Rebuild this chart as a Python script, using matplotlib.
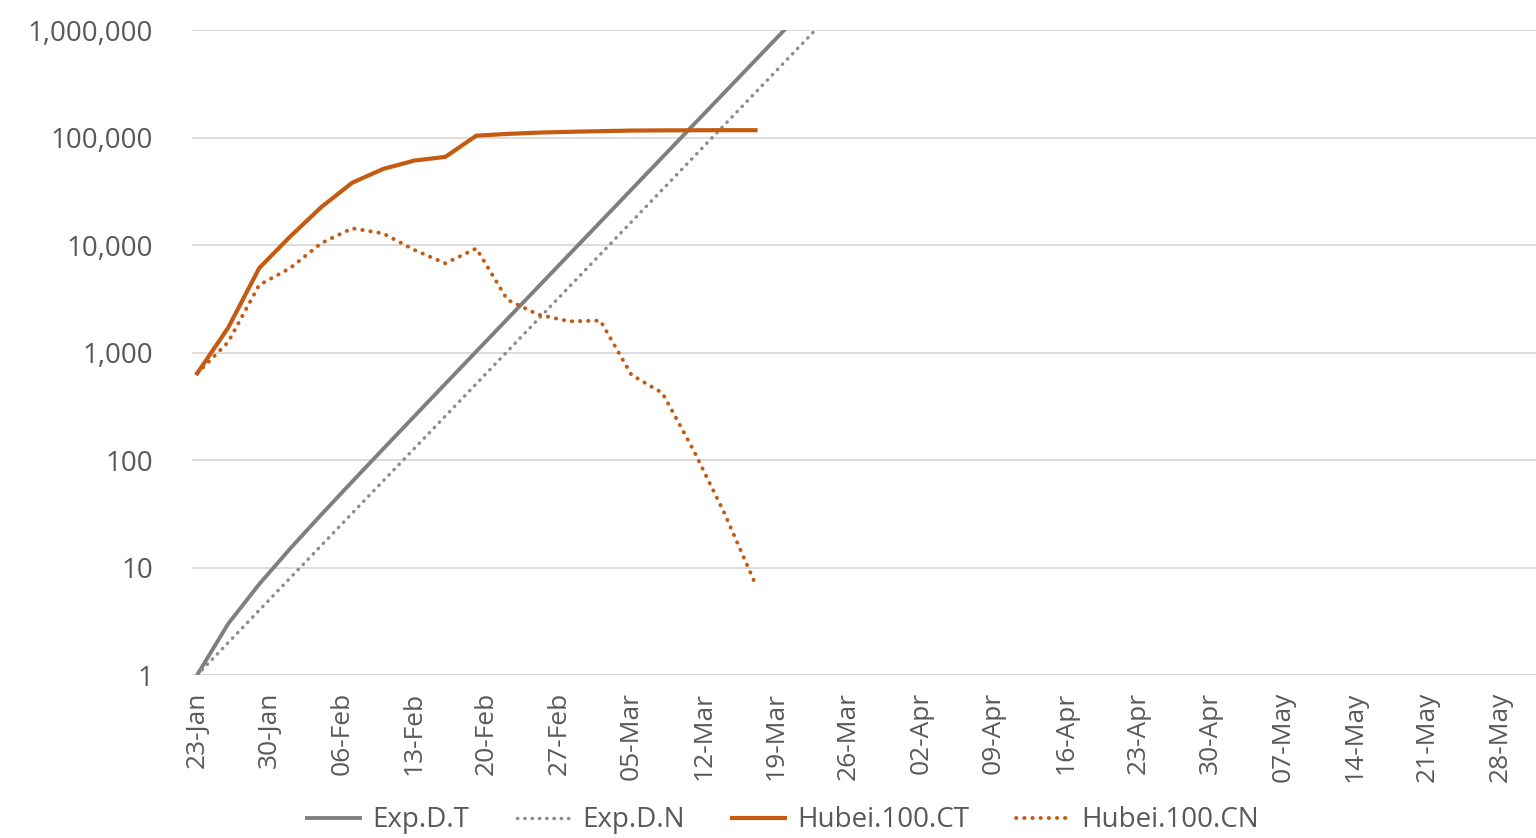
import numpy as np
import pandas as pd
import matplotlib
matplotlib.use("Agg")
import matplotlib.pyplot as plt
import matplotlib.dates as mdates
from matplotlib.ticker import FuncFormatter

# exponential reference: doubling every 3 days
exp_dates = pd.date_range("2020-01-23", periods=22, freq="3D")
exp_total = [1, 3, 7, 15, 31, 63, 127, 255, 511, 1023, 2047, 4095, 8191, 16383,
             32767, 65535, 131071, 262143, 524287, 1048575, 2097151, 4194303]
exp_new = [1, 2, 4, 8, 16, 32, 64, 128, 256, 512, 1024, 2048, 4096, 8192,
           16384, 32768, 65536, 131072, 262144, 524288, 1048576, 2097152]

# Hubei, every 3 days from 23-Jan to 17-Mar
hubei_dates = pd.date_range("2020-01-23", "2020-03-17", freq="3D")
hubei_total = [640, 1700, 6100, 12000, 22500, 38000, 51000, 61000, 66000, 104000,
               108000, 111000, 113000, 114500, 116000, 116500, 116800, 117000, 117000]
hubei_new = [640, 1250, 4250, 6100, 10400, 14300, 12800, 9000, 6750, 9300,
             3100, 2250, 1950, 1980, 620, 420, 124, 32, 7]

GRAY = "#7f7f7f"
ORANGE = "#c55a11"
TEXT = "#595959"

plt.rcParams["font.family"] = ["Open Sans", "DejaVu Sans"]

fig = plt.figure(figsize=(15.36, 8.38), dpi=100)
ax = fig.add_axes([0.125, 0.1945, 0.875, 0.7697])

dot = dict(linestyle=(0, (0.1, 2.0)), dash_capstyle="round")
ax.plot(exp_dates, exp_total, color=GRAY, lw=2.8, label="Exp.D.T", zorder=3)
ax.plot(exp_dates, exp_new, color="#8c8c8c", lw=2.5, label="Exp.D.N", zorder=3, **dot)
ax.plot(hubei_dates, hubei_total, color=ORANGE, lw=3.0, label="Hubei.100.CT", zorder=4)
ax.plot(hubei_dates, hubei_new, color=ORANGE, lw=2.8, label="Hubei.100.CN", zorder=4, **dot)

ax.set_yscale("log")
ax.set_ylim(1, 1e6)
ax.set_yticks([1, 10, 100, 1000, 10000, 100000, 1000000])
ax.yaxis.set_minor_locator(plt.NullLocator())
ax.yaxis.set_major_formatter(FuncFormatter(lambda v, p: f"{v:,.0f}"))

ax.set_xlim(pd.Timestamp("2020-01-22 12:00"), pd.Timestamp("2020-05-31 12:00"))
ax.set_xticks(pd.date_range("2020-01-23", "2020-05-28", freq="7D"))
ax.xaxis.set_major_formatter(mdates.DateFormatter("%d-%b"))

ax.grid(axis="y", color="#d9d9d9", lw=1.3)
ax.set_axisbelow(True)
for s in ax.spines.values():
    s.set_visible(False)
ax.tick_params(axis="y", length=0, pad=28, labelsize=20, labelcolor=TEXT)
ax.tick_params(axis="x", length=0, pad=12, labelsize=19, labelcolor=TEXT, labelrotation=90)

fig.legend(loc="center", bbox_to_anchor=(0.51, 0.021), ncol=4, frameon=False,
           fontsize=20, labelcolor=TEXT, handlelength=1.9, handletextpad=0.45,
           columnspacing=1.7)

fig.savefig("out.png", dpi=100)
